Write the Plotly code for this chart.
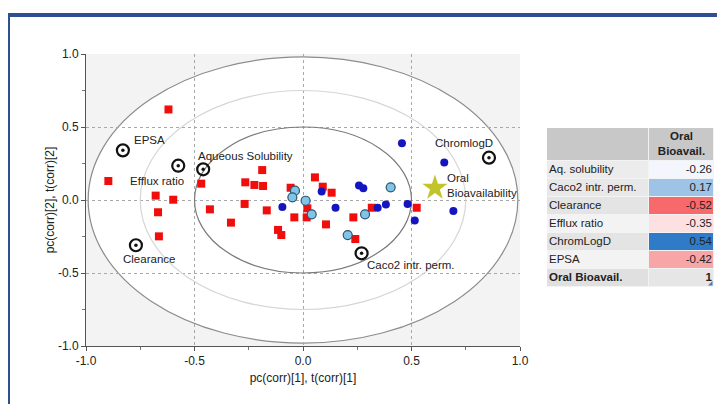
import plotly.graph_objects as go

# ---------------- data ----------------
red_x = [-0.62, -0.897, -0.679, -0.598, -0.668, -0.664, -0.469, -0.188, -0.266, -0.224,
         -0.184, -0.429, -0.269, -0.167, -0.332, -0.115, -0.10, -0.057, -0.04, 0.02,
         0.017, 0.055, 0.091, 0.132, 0.106, 0.232, 0.317, 0.241, 0.524]
red_y = [0.62, 0.13, 0.03, 0.002, -0.084, -0.249, 0.112, 0.205, 0.121, 0.103,
         0.096, -0.064, -0.027, -0.071, -0.155, -0.205, -0.24, 0.084, -0.119, -0.057,
         -0.119, 0.155, 0.091, 0.05, -0.167, -0.119, -0.053, -0.267, -0.053]

blue_x = [-0.095, 0.456, 0.651, 0.086, 0.258, 0.278, 0.15, 0.344, 0.382, 0.482, 0.515, 0.693]
blue_y = [-0.048, 0.388, 0.256, 0.059, 0.10, 0.08, -0.053, -0.053, -0.03, -0.027, -0.141, -0.075]

lblue_x = [-0.037, -0.049, 0.012, 0.04, 0.404, 0.286, 0.206]
lblue_y = [0.064, 0.018, -0.005, -0.098, 0.087, -0.098, -0.24]

load_names = ["EPSA", "Efflux ratio", "Aqueous Solubility", "Clearance", "ChromlogD", "Caco2 intr. perm."]
load_x = [-0.83, -0.575, -0.46, -0.77, 0.857, 0.27]
load_y = [0.34, 0.235, 0.21, -0.31, 0.29, -0.365]

target_name = "Oral<br>Bioavailability"
target_x = [0.608]
target_y = [0.083]

table_rows = ["Aq. solubility", "Caco2 intr. perm.", "Clearance", "Efflux ratio",
              "ChromLogD", "EPSA", "Oral Bioavail."]
table_vals = [-0.26, 0.17, -0.52, -0.35, 0.54, -0.42, 1]
table_header = "Oral<br>Bioavail."

tick_vals = [-1.0, -0.5, 0.0, 0.5, 1.0]
tick_text = ["-1.0", "-0.5", "0.0", "0.5", "1.0"]

# ---------------- styles ----------------
W, H = 725, 404
OFF = 8  # page body margin
FONT = "Liberation Sans, Arial, sans-serif"
TXT = "#222222"
px_l, px_r, px_t, px_b = 86 - OFF, 520 - OFF, 54 - OFF, 346 - OFF

label_style = {
    "EPSA": dict(xanchor="left", xshift=9, yshift=10),
    "Efflux ratio": dict(xanchor="right", xshift=8, yshift=-15),
    "Aqueous Solubility": dict(xanchor="left", xshift=-7, yshift=13),
    "Clearance": dict(xanchor="center", xshift=13, yshift=-14),
    "ChromlogD": dict(xanchor="center", xshift=-25, yshift=15),
    "Caco2 intr. perm.": dict(xanchor="left", xshift=3, yshift=-12),
}
header_color = "#c8c8c8"
val_colors = ["#f3f6fc", "#9dc3e6", "#f8696b", "#fde0e2", "#2f7bc8", "#f8a5a8", "#e6e6e6"]
label_colors = ["#ececec", "#e8e8e8", "#e4e4e4", "#f3f3f3", "#e4e4e4", "#f3f3f3", "#e0e0e0"]

# table geometry (pixels)
tb_l, tb_r, tb_t = 547 - OFF, 714 - OFF, 128 - OFF
col1_w, head_h, row_h = 102, 33, 18
tb_w = tb_r - tb_l
tb_h = head_h + row_h * len(table_rows)

fig = go.Figure()

fig.add_trace(go.Scatter(x=red_x, y=red_y, mode="markers",
                         marker=dict(symbol="square", size=8, color="#f20d0d", line=dict(width=0)),
                         hoverinfo="skip"))
fig.add_trace(go.Scatter(x=blue_x, y=blue_y, mode="markers",
                         marker=dict(symbol="circle", size=8, color="#1414c0", line=dict(width=0)),
                         hoverinfo="skip"))
fig.add_trace(go.Scatter(x=lblue_x, y=lblue_y, mode="markers",
                         marker=dict(symbol="circle", size=9, color="#80c4e6",
                                     line=dict(width=1.2, color="#2e5470")),
                         hoverinfo="skip"))
fig.add_trace(go.Scatter(x=load_x, y=load_y, mode="markers",
                         marker=dict(symbol="circle-open", size=12, color="#111111",
                                     line=dict(width=2.2, color="#111111")),
                         hoverinfo="skip"))
fig.add_trace(go.Scatter(x=load_x, y=load_y, mode="markers",
                         marker=dict(symbol="circle", size=3.5, color="#111111"),
                         hoverinfo="skip"))
fig.add_trace(go.Scatter(x=target_x, y=target_y, mode="markers",
                         marker=dict(symbol="star", size=19, color="#c3c32a", line=dict(width=0)),
                         hoverinfo="skip"))

for n, x, y in zip(load_names, load_x, load_y):
    st = label_style[n]
    fig.add_annotation(x=x, y=y, text=n, showarrow=False, yanchor="middle",
                       font=dict(family=FONT, size=11.5, color=TXT), **st)
fig.add_annotation(x=target_x[0], y=target_y[0], text=target_name, showarrow=False,
                   xanchor="left", yanchor="middle", align="left", xshift=10, yshift=2,
                   font=dict(family=FONT, size=11.5, color=TXT))

# ellipses
fig.add_shape(type="circle", xref="x", yref="y", x0=-0.99, x1=0.99, y0=-0.98, y1=0.98,
              fillcolor="white", line=dict(color="#8c8c8c", width=1.2), layer="below")
fig.add_shape(type="circle", xref="x", yref="y", x0=-0.75, x1=0.75, y0=-0.75, y1=0.75,
              line=dict(color="#d6d6d6", width=1.2), layer="between")
fig.add_shape(type="circle", xref="x", yref="y", x0=-0.5, x1=0.5, y0=-0.5, y1=0.5,
              line=dict(color="#7a7a7a", width=1.2), layer="between")

# outer frame
fig.add_shape(type="rect", xref="paper", yref="paper", x0=0.0, x1=1.05,
              y0=-0.05, y1=1 - 7 / H, line=dict(color="#2f5090", width=4))

# ---------------- table (heatmap cells + text) ----------------
n_rows = len(table_rows)
all_colors = [header_color] + label_colors + val_colors
z = [[0, 0]] + [[1 + i, 1 + n_rows + i] for i in range(n_rows)]
N = len(all_colors)
cscale = []
for k, c in enumerate(all_colors):
    cscale.append([k / N, c])
    cscale.append([(k + 1) / N, c])
x_edges = [0, col1_w, tb_w]
y_edges = [0, head_h] + [head_h + row_h * (i + 1) for i in range(n_rows)]
fig.add_trace(go.Heatmap(z=z, x=x_edges, y=y_edges, colorscale=cscale, zmin=-0.5, zmax=N - 0.5,
                         showscale=False, xgap=1, ygap=1, hoverinfo="skip",
                         xaxis="x2", yaxis="y2"))

def fmt(v):
    return "1" if v == 1 else f"{v:.2f}"

row_y = [head_h + row_h * i + row_h / 2 for i in range(n_rows)]
row_text = [f"<b>{r}</b>" if r == "Oral Bioavail." else r for r in table_rows]
val_text = [f"<b>{fmt(v)}</b>" if r == "Oral Bioavail." else fmt(v) for r, v in zip(table_rows, table_vals)]
fig.add_trace(go.Scatter(x=[2] * n_rows, y=row_y, mode="text", text=row_text,
                         textposition="middle right", textfont=dict(family=FONT, size=11.5, color=TXT),
                         hoverinfo="skip", xaxis="x2", yaxis="y2", cliponaxis=False))
fig.add_trace(go.Scatter(x=[tb_w - 2] * n_rows, y=row_y, mode="text", text=val_text,
                         textposition="middle left", textfont=dict(family=FONT, size=11.5, color=TXT),
                         hoverinfo="skip", xaxis="x2", yaxis="y2", cliponaxis=False))
fig.add_trace(go.Scatter(x=[(col1_w + tb_w) / 2], y=[head_h / 2], mode="text",
                         text=[f"<b>{table_header}</b>"], textposition="middle center",
                         textfont=dict(family=FONT, size=11.5, color=TXT),
                         hoverinfo="skip", xaxis="x2", yaxis="y2", cliponaxis=False))
fig.add_trace(go.Scatter(x=[tb_w - 3], y=[tb_h - 3], mode="markers",
                         marker=dict(symbol="triangle-se", size=5, color="#4a78c8"),
                         hoverinfo="skip", xaxis="x2", yaxis="y2"))

axis_common = dict(range=[-1, 1], tickvals=tick_vals, ticktext=tick_text,
                   showgrid=True, gridcolor="#a8a8a8", griddash="dot", gridwidth=1,
                   zeroline=False, showline=True, linecolor="#555555", linewidth=1,
                   ticks="outside", ticklen=4, tickcolor="#555555",
                   tickfont=dict(family=FONT, size=12, color=TXT),
                   minor=dict(dtick=0.25, ticks="outside", ticklen=3, tickcolor="#777777",
                              showgrid=False),
                   automargin=False, fixedrange=True)

fig.update_layout(
    width=W, height=H,
    margin=dict(l=0, r=0, t=0, b=0, autoexpand=False),
    paper_bgcolor="white", plot_bgcolor="#f3f3f3",
    showlegend=False,
    xaxis=dict(domain=[px_l / W, px_r / W],
               title=dict(text="pc(corr)[1], t(corr)[1]", standoff=6,
                          font=dict(family=FONT, size=12, color=TXT)),
               **axis_common),
    yaxis=dict(domain=[1 - px_b / H, 1 - px_t / H],
               title=dict(text="pc(corr)[2], t(corr)[2]", standoff=0,
                          font=dict(family=FONT, size=12, color=TXT)),
               **axis_common),
    xaxis2=dict(domain=[tb_l / W, tb_r / W], range=[0, tb_w], anchor="y2", visible=False,
                fixedrange=True),
    yaxis2=dict(domain=[1 - (tb_t + tb_h) / H, 1 - tb_t / H], range=[tb_h, 0], anchor="x2",
                visible=False, fixedrange=True),
)

fig.write_html("out.html")
